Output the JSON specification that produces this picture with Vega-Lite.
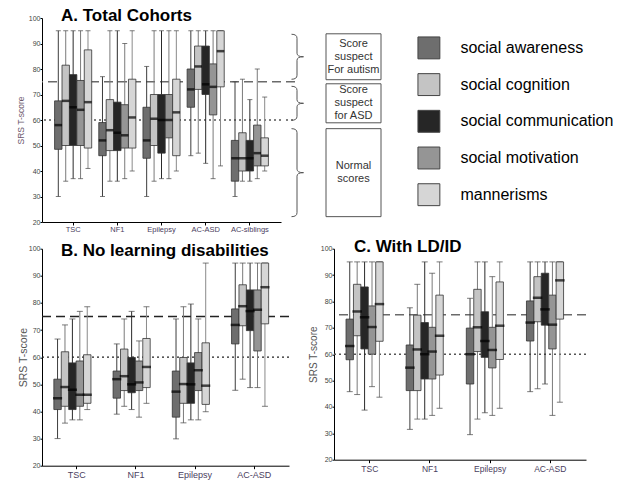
{
  "$schema": "https://vega.github.io/schema/vega-lite/v6.json",
  "background": "white",
  "padding": {"left": 16, "top": 6, "right": 0, "bottom": 0},
  "config": {"view": {"stroke": null}, "font": "Liberation Sans"},
  "datasets": {
    "A": [
      {"cohort":"TSC","subscale":"social awareness","lo":30,"q1":48.5,"med":58,"q3":67.5,"hi":95},
      {"cohort":"TSC","subscale":"social cognition","lo":36,"q1":50,"med":67.5,"q3":81.5,"hi":95},
      {"cohort":"TSC","subscale":"social communication","lo":37,"q1":50,"med":65,"q3":77.8,"hi":95},
      {"cohort":"TSC","subscale":"social motivation","lo":37,"q1":50,"med":64,"q3":75.5,"hi":95},
      {"cohort":"TSC","subscale":"mannerisms","lo":41,"q1":49,"med":67,"q3":87.5,"hi":95},
      {"cohort":"NF1","subscale":"social awareness","lo":30,"q1":46,"med":52,"q3":59,"hi":77},
      {"cohort":"NF1","subscale":"social cognition","lo":36,"q1":48,"med":56,"q3":68,"hi":95},
      {"cohort":"NF1","subscale":"social communication","lo":36,"q1":48,"med":55,"q3":67,"hi":95},
      {"cohort":"NF1","subscale":"social motivation","lo":37,"q1":49,"med":54,"q3":66,"hi":90},
      {"cohort":"NF1","subscale":"mannerisms","lo":40,"q1":49,"med":61,"q3":76,"hi":95},
      {"cohort":"Epilepsy","subscale":"social awareness","lo":30,"q1":45,"med":52,"q3":65,"hi":81},
      {"cohort":"Epilepsy","subscale":"social cognition","lo":36,"q1":50,"med":60.5,"q3":70,"hi":95},
      {"cohort":"Epilepsy","subscale":"social communication","lo":37,"q1":47,"med":60,"q3":70,"hi":95},
      {"cohort":"Epilepsy","subscale":"social motivation","lo":37,"q1":53,"med":60,"q3":70,"hi":95},
      {"cohort":"Epilepsy","subscale":"mannerisms","lo":40,"q1":46,"med":63,"q3":76,"hi":95},
      {"cohort":"AC-ASD","subscale":"social awareness","lo":46,"q1":65,"med":72,"q3":80,"hi":95},
      {"cohort":"AC-ASD","subscale":"social cognition","lo":47,"q1":72,"med":81,"q3":89,"hi":95},
      {"cohort":"AC-ASD","subscale":"social communication","lo":43,"q1":70,"med":74,"q3":89,"hi":95},
      {"cohort":"AC-ASD","subscale":"social motivation","lo":37,"q1":62,"med":73,"q3":82,"hi":95},
      {"cohort":"AC-ASD","subscale":"mannerisms","lo":42,"q1":73,"med":87,"q3":95,"hi":95},
      {"cohort":"AC-siblings","subscale":"social awareness","lo":30,"q1":36,"med":45,"q3":52,"hi":75},
      {"cohort":"AC-siblings","subscale":"social cognition","lo":36,"q1":40,"med":45,"q3":55,"hi":76},
      {"cohort":"AC-siblings","subscale":"social communication","lo":36,"q1":40,"med":45,"q3":52,"hi":68},
      {"cohort":"AC-siblings","subscale":"social motivation","lo":37,"q1":42,"med":47,"q3":58,"hi":80},
      {"cohort":"AC-siblings","subscale":"mannerisms","lo":40,"q1":42,"med":46,"q3":53,"hi":69}
    ],
    "B": [
      {"cohort":"TSC","subscale":"social awareness","lo":30,"q1":40.7,"med":44.9,"q3":51.9,"hi":66.7},
      {"cohort":"TSC","subscale":"social cognition","lo":35.7,"q1":41.9,"med":49,"q3":62,"hi":71.9},
      {"cohort":"TSC","subscale":"social communication","lo":36.9,"q1":40.7,"med":48,"q3":57.9,"hi":74.1},
      {"cohort":"TSC","subscale":"social motivation","lo":36.9,"q1":41.9,"med":46.2,"q3":58.6,"hi":76.9},
      {"cohort":"TSC","subscale":"mannerisms","lo":40.7,"q1":43,"med":46.2,"q3":60.9,"hi":78.6},
      {"cohort":"NF1","subscale":"social awareness","lo":39,"q1":44.9,"med":51.9,"q3":54.9,"hi":64.9},
      {"cohort":"NF1","subscale":"social cognition","lo":41.9,"q1":47.7,"med":53,"q3":63,"hi":74.1},
      {"cohort":"NF1","subscale":"social communication","lo":40.7,"q1":46.9,"med":50,"q3":59.9,"hi":76.9},
      {"cohort":"NF1","subscale":"social motivation","lo":37.9,"q1":47.7,"med":50.7,"q3":58.6,"hi":66},
      {"cohort":"NF1","subscale":"mannerisms","lo":43,"q1":48.8,"med":56.4,"q3":66.9,"hi":78.6},
      {"cohort":"Epilepsy","subscale":"social awareness","lo":29.9,"q1":37.9,"med":47.3,"q3":54.9,"hi":74.1},
      {"cohort":"Epilepsy","subscale":"social cognition","lo":35.8,"q1":43,"med":50.1,"q3":59.9,"hi":78.6},
      {"cohort":"Epilepsy","subscale":"social communication","lo":36.9,"q1":43,"med":50,"q3":57.9,"hi":79.6},
      {"cohort":"Epilepsy","subscale":"social motivation","lo":36.9,"q1":47.7,"med":55.2,"q3":61.7,"hi":74.1},
      {"cohort":"Epilepsy","subscale":"mannerisms","lo":39.9,"q1":42.6,"med":49.5,"q3":65.3,"hi":94.7},
      {"cohort":"AC-ASD","subscale":"social awareness","lo":47.8,"q1":64.9,"med":71.9,"q3":77.8,"hi":94.7},
      {"cohort":"AC-ASD","subscale":"social cognition","lo":51.9,"q1":71.6,"med":78.8,"q3":86.7,"hi":94.7},
      {"cohort":"AC-ASD","subscale":"social communication","lo":48.8,"q1":69.8,"med":77,"q3":84.8,"hi":94.7},
      {"cohort":"AC-ASD","subscale":"social motivation","lo":48.8,"q1":62.3,"med":77.5,"q3":84.8,"hi":94.7},
      {"cohort":"AC-ASD","subscale":"mannerisms","lo":41.9,"q1":72.3,"med":85.8,"q3":94.7,"hi":94.7}
    ],
    "C": [
      {"cohort":"TSC","subscale":"social awareness","lo":45.8,"q1":57.9,"med":63.1,"q3":73.3,"hi":95},
      {"cohort":"TSC","subscale":"social cognition","lo":44.7,"q1":67,"med":76.2,"q3":86.5,"hi":95},
      {"cohort":"TSC","subscale":"social communication","lo":38.8,"q1":62,"med":74,"q3":85.5,"hi":95},
      {"cohort":"TSC","subscale":"social motivation","lo":47.7,"q1":60,"med":70.3,"q3":78.3,"hi":95},
      {"cohort":"TSC","subscale":"mannerisms","lo":43.7,"q1":64.9,"med":79,"q3":95,"hi":95},
      {"cohort":"NF1","subscale":"social awareness","lo":31.5,"q1":46.2,"med":54.9,"q3":63.5,"hi":77.6},
      {"cohort":"NF1","subscale":"social cognition","lo":35.4,"q1":46.2,"med":61.8,"q3":74.8,"hi":86.5},
      {"cohort":"NF1","subscale":"social communication","lo":35.4,"q1":50.6,"med":60,"q3":72,"hi":95},
      {"cohort":"NF1","subscale":"social motivation","lo":36.8,"q1":50.6,"med":61,"q3":70.2,"hi":90.7},
      {"cohort":"NF1","subscale":"mannerisms","lo":39.5,"q1":52.1,"med":67,"q3":82.4,"hi":95},
      {"cohort":"Epilepsy","subscale":"social awareness","lo":29.5,"q1":48.7,"med":60,"q3":69.9,"hi":81.2},
      {"cohort":"Epilepsy","subscale":"social cognition","lo":35.4,"q1":61,"med":70.2,"q3":84.6,"hi":95},
      {"cohort":"Epilepsy","subscale":"social communication","lo":37.8,"q1":58.8,"med":65,"q3":76.1,"hi":95},
      {"cohort":"Epilepsy","subscale":"social motivation","lo":36.8,"q1":54.8,"med":61.6,"q3":70.2,"hi":89.4},
      {"cohort":"Epilepsy","subscale":"mannerisms","lo":39.5,"q1":58,"med":70.8,"q3":87.4,"hi":95},
      {"cohort":"AC-ASD","subscale":"social awareness","lo":45.8,"q1":65,"med":72,"q3":80.2,"hi":95},
      {"cohort":"AC-ASD","subscale":"social cognition","lo":46.9,"q1":72.3,"med":81.4,"q3":89.4,"hi":95},
      {"cohort":"AC-ASD","subscale":"social communication","lo":48.7,"q1":71,"med":77,"q3":90.7,"hi":95},
      {"cohort":"AC-ASD","subscale":"social motivation","lo":36.8,"q1":62,"med":71.2,"q3":82.4,"hi":95},
      {"cohort":"AC-ASD","subscale":"mannerisms","lo":41.8,"q1":73.3,"med":88,"q3":95,"hi":95}
    ],
    "zones": [
      {"zone":"autism","lo":75.8,"hi":93.8,"label":"Score\nsuspect\nFor autism"},
      {"zone":"asd","lo":58.9,"hi":74.2,"label":"Score\nsuspect\nfor ASD"},
      {"zone":"normal","lo":22.1,"hi":56.6,"label":"Normal\nscores"}
    ],
    "subs": [
      {"subscale":"social awareness"},
      {"subscale":"social cognition"},
      {"subscale":"social communication"},
      {"subscale":"social motivation"},
      {"subscale":"mannerisms"}
    ]
  },
  "resolve": {"scale": {"fill":"independent","stroke":"independent","shape":"independent","x":"independent","y":"independent"}, "legend": {"fill":"independent"}},
  "spacing": 4.7,
  "vconcat": [
    {
      "spacing": 3,
      "resolve": {"scale": {"fill":"independent","stroke":"independent","shape":"independent","x":"independent","y":"independent"}, "legend": {"fill":"independent"}},
      "hconcat": [
        {
          "width": 239, "height": 204,
          "title": {"text":"A. Total Cohorts","anchor":"start","frame":"group","dx":19,"offset":-23.7,"baseline":"alphabetic","fontSize":17,"fontWeight":"bold","color":"#000","font":"Liberation Sans"},
          "layer": [
            {"data":{"values":[{}]},"mark":{"type":"rule","strokeDash":[9,5],"stroke":"#6a6a6a","strokeWidth":1.5},"encoding":{"y":{"datum":75,"type":"quantitative","scale":{"domain":[20,100],"nice":false,"zero":false},"axis":{"title":"SRS T-score","values":[20,30,40,50,60,70,80,90,100],"labelFontSize":7,"labelColor":"#444","tickSize":2,"tickColor":"#000","domainColor":"#000","titleFontSize":8.5,"titleFontWeight":"normal","titleColor":"#6e5a6e","titlePadding":3,"grid":false,"labelPadding":0}}}},
            {"data":{"values":[{}]},"mark":{"type":"rule","strokeDash":[2,3],"stroke":"#555","strokeWidth":1.4},"encoding":{"y":{"datum":60,"type":"quantitative","scale":{"domain":[20,100],"nice":false,"zero":false},"axis":{"title":"SRS T-score","values":[20,30,40,50,60,70,80,90,100],"labelFontSize":7,"labelColor":"#444","tickSize":2,"tickColor":"#000","domainColor":"#000","titleFontSize":8.5,"titleFontWeight":"normal","titleColor":"#6e5a6e","titlePadding":3,"grid":false,"labelPadding":0}}}},
            {
              "data":{"name":"A"},
              "encoding":{
                "x":{"field":"cohort","type":"nominal","sort":["TSC","NF1","Epilepsy","AC-ASD","AC-siblings"],"scale":{"paddingInner":0.16,"paddingOuter":0.285},"axis":{"title":null,"labelAngle":0,"labelFontSize":7.5,"labelColor":"#4a4060","tickSize":3,"tickColor":"#000","domainColor":"#000","labelPadding":0}},
                "xOffset":{"field":"subscale","type":"nominal","sort":["social awareness","social cognition","social communication","social motivation","mannerisms"],"scale":{"paddingInner":0,"paddingOuter":0}}
              },
              "layer": [
                {"mark":{"type":"rule","strokeWidth":1},"encoding":{"y":{"field":"lo","type":"quantitative","scale":{"domain":[20,100],"nice":false,"zero":false},"axis":{"title":"SRS T-score","values":[20,30,40,50,60,70,80,90,100],"labelFontSize":7,"labelColor":"#444","tickSize":2,"tickColor":"#000","domainColor":"#000","titleFontSize":8.5,"titleFontWeight":"normal","titleColor":"#6e5a6e","titlePadding":3,"grid":false,"labelPadding":0}},"y2":{"field":"hi"},"stroke":{"field":"subscale","type":"nominal","scale":{"domain":["social awareness","social cognition","social communication","social motivation","mannerisms"],"range":["#3c3c3c","#7a7a7a","#2a2a2a","#7a7a7a","#8a8a8a"]},"legend":null}}},
                {"mark":{"type":"tick","size":5,"thickness":1,"color":"#444"},"encoding":{"y":{"field":"hi","type":"quantitative","scale":{"domain":[20,100],"nice":false,"zero":false},"axis":{"title":"SRS T-score","values":[20,30,40,50,60,70,80,90,100],"labelFontSize":7,"labelColor":"#444","tickSize":2,"tickColor":"#000","domainColor":"#000","titleFontSize":8.5,"titleFontWeight":"normal","titleColor":"#6e5a6e","titlePadding":3,"grid":false,"labelPadding":0}}}},
                {"mark":{"type":"tick","size":5,"thickness":1,"color":"#444"},"encoding":{"y":{"field":"lo","type":"quantitative","scale":{"domain":[20,100],"nice":false,"zero":false},"axis":{"title":"SRS T-score","values":[20,30,40,50,60,70,80,90,100],"labelFontSize":7,"labelColor":"#444","tickSize":2,"tickColor":"#000","domainColor":"#000","titleFontSize":8.5,"titleFontWeight":"normal","titleColor":"#6e5a6e","titlePadding":3,"grid":false,"labelPadding":0}}}},
                {"mark":{"type":"bar","stroke":"#333","strokeWidth":0.8},"encoding":{"y":{"field":"q1","type":"quantitative","scale":{"domain":[20,100],"nice":false,"zero":false},"axis":{"title":"SRS T-score","values":[20,30,40,50,60,70,80,90,100],"labelFontSize":7,"labelColor":"#444","tickSize":2,"tickColor":"#000","domainColor":"#000","titleFontSize":8.5,"titleFontWeight":"normal","titleColor":"#6e5a6e","titlePadding":3,"grid":false,"labelPadding":0}},"y2":{"field":"q3"},"fill":{"field":"subscale","type":"nominal","scale":{"domain":["social awareness","social cognition","social communication","social motivation","mannerisms"],"range":["#6e6e6e","#c4c4c4","#262626","#959595","#d6d6d6"]},"legend":null}}},
                {"mark":{"type":"tick","size":7.5,"thickness":2.5,"color":"#000"},"encoding":{"y":{"field":"med","type":"quantitative","scale":{"domain":[20,100],"nice":false,"zero":false},"axis":{"title":"SRS T-score","values":[20,30,40,50,60,70,80,90,100],"labelFontSize":7,"labelColor":"#444","tickSize":2,"tickColor":"#000","domainColor":"#000","titleFontSize":8.5,"titleFontWeight":"normal","titleColor":"#6e5a6e","titlePadding":3,"grid":false,"labelPadding":0}}}}
              ]
            }
          ]
        },
        {
          "width": 100, "height": 204,
          "layer": [
            {"data":{"values":[{}]},"mark":{"type":"rule","strokeDash":[9,5],"stroke":"#6a6a6a","strokeWidth":1.5},"encoding":{"x":{"datum":0,"type":"quantitative","scale":{"domain":[0,100]},"axis":null},"x2":{"datum":10},"y":{"datum":75,"type":"quantitative","scale":{"domain":[20,100],"nice":false,"zero":false},"axis":null}}},
            {"data":{"values":[{}]},"mark":{"type":"rule","strokeDash":[2,3],"stroke":"#555","strokeWidth":1.4},"encoding":{"x":{"datum":0,"type":"quantitative","scale":{"domain":[0,100]},"axis":null},"x2":{"datum":7},"y":{"datum":60,"type":"quantitative","scale":{"domain":[20,100],"nice":false,"zero":false},"axis":null}}},
            {"data":{"name":"zones"},"transform":[{"calculate":"(datum.lo+datum.hi)/2","as":"mid"}],"mark":{"type":"point","filled":false,"size":10000,"color":"#555","strokeWidth":1,"opacity":1},"encoding":{"x":{"datum":11.5,"type":"quantitative","scale":{"domain":[0,100]},"axis":null},"y":{"field":"mid","type":"quantitative","scale":{"domain":[20,100],"nice":false,"zero":false},"axis":null},"shape":{"field":"zone","type":"nominal","scale":{"domain":["autism","asd","normal"],"range":["M-0.12,-0.45Q-0.01,-0.45 -0.01,-0.37L-0.01,-0.07Q-0.01,0 0.12,0Q-0.01,0 -0.01,0.07L-0.01,0.37Q-0.01,0.45 -0.12,0.45","M-0.12,-0.34Q-0.01,-0.34 -0.01,-0.26L-0.01,-0.07Q-0.01,0 0.12,0Q-0.01,0 -0.01,0.07L-0.01,0.26Q-0.01,0.34 -0.12,0.34","M-0.12,-0.88Q-0.01,-0.88 -0.01,-0.8L-0.01,-0.07Q-0.01,0 0.12,0Q-0.01,0 -0.01,0.07L-0.01,0.8Q-0.01,0.88 -0.12,0.88"]},"legend":null}}},
            {"data":{"name":"zones"},"mark":{"type":"rect","fill":"white","stroke":"#555","strokeWidth":1},"encoding":{"x":{"datum":40,"type":"quantitative","scale":{"domain":[0,100]},"axis":null},"x2":{"datum":95},"y":{"field":"lo","type":"quantitative","scale":{"domain":[20,100],"nice":false,"zero":false},"axis":null},"y2":{"field":"hi"}}},
            {"data":{"name":"zones"},"transform":[{"filter":"datum.zone !== 'normal'"},{"calculate":"(datum.lo+datum.hi)/2","as":"mid"}],"mark":{"type":"text","fontSize":11,"color":"#333","lineBreak":"\n","lineHeight":13,"align":"center","baseline":"middle","dy":-13,"font":"Liberation Sans"},"encoding":{"x":{"datum":67.5,"type":"quantitative","scale":{"domain":[0,100]},"axis":null},"y":{"field":"mid","type":"quantitative","scale":{"domain":[20,100],"nice":false,"zero":false},"axis":null},"text":{"field":"label","type":"nominal"}}},
            {"data":{"name":"zones"},"transform":[{"filter":"datum.zone === 'normal'"},{"calculate":"(datum.lo+datum.hi)/2","as":"mid"}],"mark":{"type":"text","fontSize":11,"color":"#333","lineBreak":"\n","lineHeight":13,"align":"center","baseline":"middle","dy":-6.5,"font":"Liberation Sans"},"encoding":{"x":{"datum":67.5,"type":"quantitative","scale":{"domain":[0,100]},"axis":null},"y":{"field":"mid","type":"quantitative","scale":{"domain":[20,100],"nice":false,"zero":false},"axis":null},"text":{"field":"label","type":"nominal"}}},
            {"data":{"name":"subs"},"mark":{"type":"square","opacity":0,"stroke":"#444","strokeWidth":1},"encoding":{"fill":{"field":"subscale","type":"nominal","scale":{"domain":["social awareness","social cognition","social communication","social motivation","mannerisms"],"range":["#6e6e6e","#c4c4c4","#262626","#959595","#d6d6d6"]},"legend":{"title":null,"orient":"right","offset":12.6,"padding":18.4,"symbolType":"square","symbolSize":480,"symbolStrokeColor":"#444","symbolStrokeWidth":1,"symbolOpacity":1,"labelFontSize":16,"labelColor":"#000","labelOffset":20,"rowPadding":9.7,"labelFont":"Liberation Sans","labelLimit":300}}}}
          ]
        }
      ]
    },
    {
      "spacing": 18,
      "resolve": {"scale": {"fill":"independent","stroke":"independent","shape":"independent","x":"independent","y":"independent"}, "legend": {"fill":"independent"}},
      "hconcat": [
        {
          "width": 247, "height": 217,
          "title": {"text":"B. No learning disabilities","anchor":"start","frame":"group","dx":19,"offset":-28.3,"baseline":"alphabetic","fontSize":17,"fontWeight":"bold","color":"#000","font":"Liberation Sans"},
          "layer": [
            {"data":{"values":[{}]},"mark":{"type":"rule","strokeDash":[9,5],"stroke":"#222","strokeWidth":1.3},"encoding":{"y":{"datum":75,"type":"quantitative","scale":{"domain":[20,100],"nice":false,"zero":false},"axis":{"title":"SRS T-score","values":[20,30,40,50,60,70,80,90,100],"labelFontSize":7,"labelColor":"#444","tickSize":2,"tickColor":"#000","domainColor":"#000","titleFontSize":10.5,"titleFontWeight":"normal","titleColor":"#555","titlePadding":0,"grid":false,"labelPadding":0}}}},
            {"data":{"values":[{}]},"mark":{"type":"rule","strokeDash":[2,3],"stroke":"#222","strokeWidth":1.3},"encoding":{"y":{"datum":60,"type":"quantitative","scale":{"domain":[20,100],"nice":false,"zero":false},"axis":{"title":"SRS T-score","values":[20,30,40,50,60,70,80,90,100],"labelFontSize":7,"labelColor":"#444","tickSize":2,"tickColor":"#000","domainColor":"#000","titleFontSize":10.5,"titleFontWeight":"normal","titleColor":"#555","titlePadding":0,"grid":false,"labelPadding":0}}}},
            {
              "data":{"name":"B"},
              "encoding":{
                "x":{"field":"cohort","type":"nominal","sort":["TSC","NF1","Epilepsy","AC-ASD"],"scale":{"paddingInner":0.23,"paddingOuter":0.2},"axis":{"title":null,"labelAngle":0,"labelFontSize":9,"labelColor":"#4a4060","tickSize":3,"tickColor":"#000","domainColor":"#000","labelPadding":2}},
                "xOffset":{"field":"subscale","type":"nominal","sort":["social awareness","social cognition","social communication","social motivation","mannerisms"],"scale":{"paddingInner":0,"paddingOuter":0}}
              },
              "layer": [
                {"mark":{"type":"rule","strokeWidth":1},"encoding":{"y":{"field":"lo","type":"quantitative","scale":{"domain":[20,100],"nice":false,"zero":false},"axis":{"title":"SRS T-score","values":[20,30,40,50,60,70,80,90,100],"labelFontSize":7,"labelColor":"#444","tickSize":2,"tickColor":"#000","domainColor":"#000","titleFontSize":10.5,"titleFontWeight":"normal","titleColor":"#555","titlePadding":0,"grid":false,"labelPadding":0}},"y2":{"field":"hi"},"stroke":{"field":"subscale","type":"nominal","scale":{"domain":["social awareness","social cognition","social communication","social motivation","mannerisms"],"range":["#3c3c3c","#7a7a7a","#2a2a2a","#7a7a7a","#8a8a8a"]},"legend":null}}},
                {"mark":{"type":"tick","size":6,"thickness":1,"color":"#444"},"encoding":{"y":{"field":"hi","type":"quantitative","scale":{"domain":[20,100],"nice":false,"zero":false},"axis":{"title":"SRS T-score","values":[20,30,40,50,60,70,80,90,100],"labelFontSize":7,"labelColor":"#444","tickSize":2,"tickColor":"#000","domainColor":"#000","titleFontSize":10.5,"titleFontWeight":"normal","titleColor":"#555","titlePadding":0,"grid":false,"labelPadding":0}}}},
                {"mark":{"type":"tick","size":6,"thickness":1,"color":"#444"},"encoding":{"y":{"field":"lo","type":"quantitative","scale":{"domain":[20,100],"nice":false,"zero":false},"axis":{"title":"SRS T-score","values":[20,30,40,50,60,70,80,90,100],"labelFontSize":7,"labelColor":"#444","tickSize":2,"tickColor":"#000","domainColor":"#000","titleFontSize":10.5,"titleFontWeight":"normal","titleColor":"#555","titlePadding":0,"grid":false,"labelPadding":0}}}},
                {"mark":{"type":"bar","stroke":"#333","strokeWidth":0.8},"encoding":{"y":{"field":"q1","type":"quantitative","scale":{"domain":[20,100],"nice":false,"zero":false},"axis":{"title":"SRS T-score","values":[20,30,40,50,60,70,80,90,100],"labelFontSize":7,"labelColor":"#444","tickSize":2,"tickColor":"#000","domainColor":"#000","titleFontSize":10.5,"titleFontWeight":"normal","titleColor":"#555","titlePadding":0,"grid":false,"labelPadding":0}},"y2":{"field":"q3"},"fill":{"field":"subscale","type":"nominal","scale":{"domain":["social awareness","social cognition","social communication","social motivation","mannerisms"],"range":["#6e6e6e","#c4c4c4","#262626","#959595","#d6d6d6"]},"legend":null}}},
                {"mark":{"type":"tick","size":9.1,"thickness":2.5,"color":"#000"},"encoding":{"y":{"field":"med","type":"quantitative","scale":{"domain":[20,100],"nice":false,"zero":false},"axis":{"title":"SRS T-score","values":[20,30,40,50,60,70,80,90,100],"labelFontSize":7,"labelColor":"#444","tickSize":2,"tickColor":"#000","domainColor":"#000","titleFontSize":10.5,"titleFontWeight":"normal","titleColor":"#555","titlePadding":0,"grid":false,"labelPadding":0}}}}
              ]
            }
          ]
        },
        {
          "width": 252, "height": 211,
          "title": {"text":"C. With LD/ID","anchor":"start","frame":"group","dx":20,"offset":-24.6,"baseline":"alphabetic","fontSize":17,"fontWeight":"bold","color":"#000","font":"Liberation Sans"},
          "layer": [
            {"data":{"values":[{}]},"mark":{"type":"rule","strokeDash":[9,5],"stroke":"#6a6a6a","strokeWidth":1.5},"encoding":{"y":{"datum":75,"type":"quantitative","scale":{"domain":[20,100],"nice":false,"zero":false},"axis":{"title":"SRS T-score","values":[20,30,40,50,60,70,80,90,100],"labelFontSize":7,"labelColor":"#444","tickSize":2,"tickColor":"#000","domainColor":"#000","titleFontSize":10,"titleFontWeight":"normal","titleColor":"#555","titlePadding":2,"grid":false,"labelPadding":0}}}},
            {"data":{"values":[{}]},"mark":{"type":"rule","strokeDash":[2,3],"stroke":"#555","strokeWidth":1.4},"encoding":{"y":{"datum":60,"type":"quantitative","scale":{"domain":[20,100],"nice":false,"zero":false},"axis":{"title":"SRS T-score","values":[20,30,40,50,60,70,80,90,100],"labelFontSize":7,"labelColor":"#444","tickSize":2,"tickColor":"#000","domainColor":"#000","titleFontSize":10,"titleFontWeight":"normal","titleColor":"#555","titlePadding":2,"grid":false,"labelPadding":0}}}},
            {
              "data":{"name":"C"},
              "encoding":{
                "x":{"field":"cohort","type":"nominal","sort":["TSC","NF1","Epilepsy","AC-ASD"],"scale":{"paddingInner":0.21,"paddingOuter":0.2},"axis":{"title":null,"labelAngle":0,"labelFontSize":8.5,"labelColor":"#4a4060","tickSize":3,"tickColor":"#000","domainColor":"#000","labelPadding":2}},
                "xOffset":{"field":"subscale","type":"nominal","sort":["social awareness","social cognition","social communication","social motivation","mannerisms"],"scale":{"paddingInner":0,"paddingOuter":0}}
              },
              "layer": [
                {"mark":{"type":"rule","strokeWidth":1},"encoding":{"y":{"field":"lo","type":"quantitative","scale":{"domain":[20,100],"nice":false,"zero":false},"axis":{"title":"SRS T-score","values":[20,30,40,50,60,70,80,90,100],"labelFontSize":7,"labelColor":"#444","tickSize":2,"tickColor":"#000","domainColor":"#000","titleFontSize":10,"titleFontWeight":"normal","titleColor":"#555","titlePadding":2,"grid":false,"labelPadding":0}},"y2":{"field":"hi"},"stroke":{"field":"subscale","type":"nominal","scale":{"domain":["social awareness","social cognition","social communication","social motivation","mannerisms"],"range":["#3c3c3c","#7a7a7a","#2a2a2a","#7a7a7a","#8a8a8a"]},"legend":null}}},
                {"mark":{"type":"tick","size":6,"thickness":1,"color":"#444"},"encoding":{"y":{"field":"hi","type":"quantitative","scale":{"domain":[20,100],"nice":false,"zero":false},"axis":{"title":"SRS T-score","values":[20,30,40,50,60,70,80,90,100],"labelFontSize":7,"labelColor":"#444","tickSize":2,"tickColor":"#000","domainColor":"#000","titleFontSize":10,"titleFontWeight":"normal","titleColor":"#555","titlePadding":2,"grid":false,"labelPadding":0}}}},
                {"mark":{"type":"tick","size":6,"thickness":1,"color":"#444"},"encoding":{"y":{"field":"lo","type":"quantitative","scale":{"domain":[20,100],"nice":false,"zero":false},"axis":{"title":"SRS T-score","values":[20,30,40,50,60,70,80,90,100],"labelFontSize":7,"labelColor":"#444","tickSize":2,"tickColor":"#000","domainColor":"#000","titleFontSize":10,"titleFontWeight":"normal","titleColor":"#555","titlePadding":2,"grid":false,"labelPadding":0}}}},
                {"mark":{"type":"bar","stroke":"#333","strokeWidth":0.8},"encoding":{"y":{"field":"q1","type":"quantitative","scale":{"domain":[20,100],"nice":false,"zero":false},"axis":{"title":"SRS T-score","values":[20,30,40,50,60,70,80,90,100],"labelFontSize":7,"labelColor":"#444","tickSize":2,"tickColor":"#000","domainColor":"#000","titleFontSize":10,"titleFontWeight":"normal","titleColor":"#555","titlePadding":2,"grid":false,"labelPadding":0}},"y2":{"field":"q3"},"fill":{"field":"subscale","type":"nominal","scale":{"domain":["social awareness","social cognition","social communication","social motivation","mannerisms"],"range":["#6e6e6e","#c4c4c4","#262626","#959595","#d6d6d6"]},"legend":null}}},
                {"mark":{"type":"tick","size":9.5,"thickness":2.5,"color":"#000"},"encoding":{"y":{"field":"med","type":"quantitative","scale":{"domain":[20,100],"nice":false,"zero":false},"axis":{"title":"SRS T-score","values":[20,30,40,50,60,70,80,90,100],"labelFontSize":7,"labelColor":"#444","tickSize":2,"tickColor":"#000","domainColor":"#000","titleFontSize":10,"titleFontWeight":"normal","titleColor":"#555","titlePadding":2,"grid":false,"labelPadding":0}}}}
              ]
            }
          ]
        }
      ]
    }
  ]
}
